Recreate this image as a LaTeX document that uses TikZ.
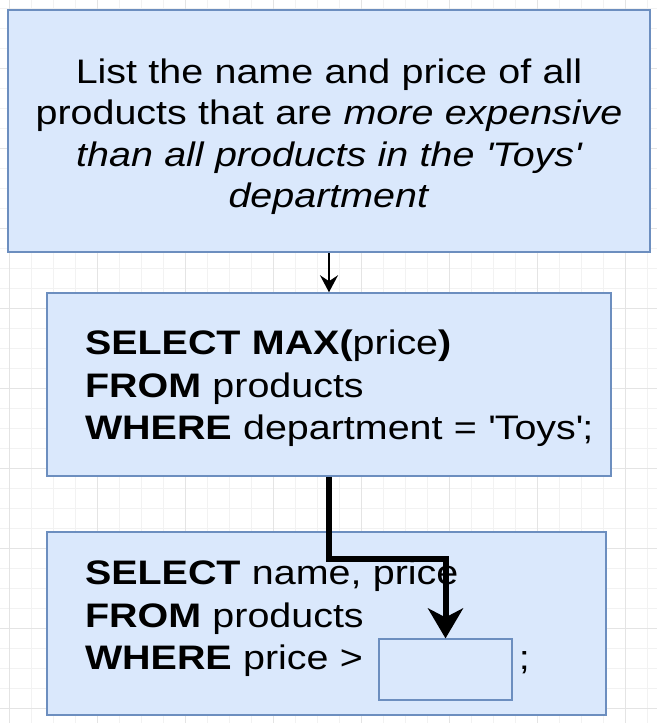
\documentclass[tikz,border=0pt]{standalone}
\usepackage{fontspec}
\setmainfont{Liberation Sans}[FakeStretch=1.16]
\usepackage{xcolor}
\usepackage{tikz}
\usetikzlibrary{arrows.meta}
\definecolor{boxfill}{HTML}{DAE8FC}
\definecolor{boxline}{HTML}{6C8EBF}
\definecolor{gridminor}{HTML}{F2F2F2}
\definecolor{gridmajor}{HTML}{E4E4E4}

\begin{document}
\begin{tikzpicture}[x=1pt,y=-1pt,
	qbox/.style={draw=boxline, fill=boxfill, line width=1.5pt, inner sep=0pt},
	tasktext/.style={font=\fontsize{34}{41.3}\selectfont, align=center},
	sqltext/.style={font=\fontsize{34}{42.5}\selectfont, align=left},
	thinflow/.style={line width=2pt, -{Stealth[length=17pt,width=18pt,inset=6pt]}},
	thickflow/.style={line width=6pt, -{Stealth[length=30pt,width=35pt,inset=9pt]}}]
\useasboundingbox (0,0) rectangle (657,723);
\fill[white] (0,0) rectangle (657,723);
\foreach \x in {9,31,...,657}
	\draw[gridminor] (\x,0) -- (\x,723);
\foreach \y in {8,28,...,723}
	\draw[gridminor] (0,\y) -- (657,\y);
\foreach \x in {9,97,...,657}
	\draw[gridmajor] (\x,0) -- (\x,723);
\foreach \y in {68,148,...,723}
	\draw[gridmajor] (0,\y) -- (657,\y);
\node[qbox, tasktext, minimum width=642pt, minimum height=242pt, text width=600pt] (task) at (329,131)
	{\rule{0pt}{36pt}List the name and price of all\\
	products that are \textit{more expensive}\\
	\textit{than all products in the \textquotesingle Toys\textquotesingle}\\
	\textit{department}};
\node[qbox, sqltext, minimum width=564pt, minimum height=183pt, text width=488pt] (subquery) at (329,384.5)
	{\rule{0pt}{33pt}\textbf{SELECT MAX(}price\textbf{)}\\
	\textbf{FROM} products\\
	\mbox{\textbf{WHERE} department = \textquotesingle Toys\textquotesingle;}};
\node[qbox, sqltext, minimum width=559pt, minimum height=183pt, text width=483pt] (outer) at (326.5,623.5)
	{\textbf{SELECT} name, price\\
	\textbf{FROM} products\\
	\mbox{\textbf{WHERE} price >\hspace{156pt};}\rule[-17pt]{0pt}{0pt}};
\node[qbox, line width=1.2pt, minimum width=133pt, minimum height=61pt] (slot) at (445.5,669.5) {};
\draw[thinflow] (task.south) -- (subquery.north);
\draw[thickflow] (subquery.south) -- ++(0,82) -| (slot.north);
\end{tikzpicture}
\end{document}
